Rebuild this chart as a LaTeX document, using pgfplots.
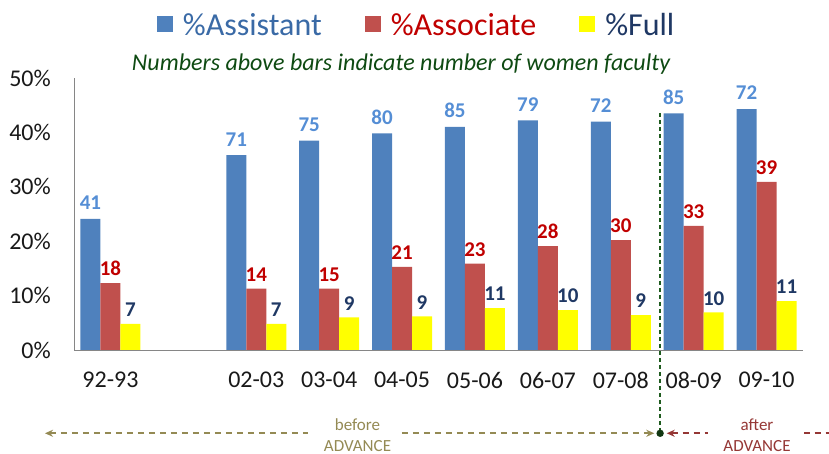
\documentclass[border=0pt]{standalone}
\usepackage{fontspec}
\setmainfont{Carlito}
\usepackage{pgfplots}
\usepackage{pgfplotstable}
\pgfplotsset{compat=1.18}
\usetikzlibrary{arrows.meta}

\definecolor{barBlue}{HTML}{4F81BD}
\definecolor{barRed}{HTML}{C0504D}
\definecolor{barYellow}{HTML}{FFFF00}
\definecolor{labBlue}{HTML}{558ED5}
\definecolor{labRed}{HTML}{C00000}
\definecolor{labNavy}{HTML}{1F3864}
\definecolor{legBlue}{HTML}{3A6AA6}
\definecolor{subGreen}{HTML}{0E4A12}
\definecolor{lineGreen}{HTML}{1E5B1E}
\definecolor{olive}{HTML}{948A54}
\definecolor{afterRed}{HTML}{953735}
\definecolor{axGray}{HTML}{868686}

\pgfplotstableread{
x y lab
0 24.1 41
2 35.8 71
3 38.5 75
4 39.8 80
5 41.0 85
6 42.2 79
7 42.0 72
8 43.5 85
9 44.3 72
}\assist
\pgfplotstableread{
x y lab
0 12.3 18
2 11.3 14
3 11.3 15
4 15.3 21
5 15.9 23
6 19.1 28
7 20.2 30
8 22.8 33
9 30.9 39
}\associate
\pgfplotstableread{
x y lab
0 4.8 7
2 4.8 7
3 6.0 9
4 6.2 9
5 7.7 11
6 7.35 10
7 6.4 9
8 6.9 10
9 9.0 11
}\full

\begin{document}
\begin{tikzpicture}
\path[use as bounding box] (0,0) rectangle (829pt,454pt);
\begin{axis}[
  at={(74pt,104pt)}, anchor=south west,
  scale only axis, width=729pt, height=272pt,
  xmin=-0.5, xmax=9.5, ymin=0, ymax=50,
  clip=false,
  ybar legend/.style={legend image code/.code={\fill[##1] (0pt,-7pt) rectangle (16pt,9pt);}},
  ybar=0pt, bar width=20pt,
  axis x line=bottom, axis y line=left,
  axis line style={draw=axGray, line width=0.8pt, -},
  xtick={0,2,3,4,5,6,7,8,9},
  xticklabels={92-93,02-03,03-04,04-05,05-06,06-07,07-08,08-09,09-10},
  ytick={0,10,20,30,40,50},
  yticklabels={0\%,10\%,20\%,30\%,40\%,50\%},
  major tick length=0pt,
  tick label style={font=\fontsize{24}{24}\selectfont, text=black!90},
  yticklabel style={inner sep=0pt, anchor=east, xshift=-23pt},
  xticklabel style={inner sep=0pt, anchor=north, yshift=-22pt},
  nodes near coords, point meta=explicit symbolic,
  every node near coord/.append style={font=\bfseries\fontsize{21}{21}\selectfont, inner sep=0pt, anchor=south},
  legend columns=3,
  legend style={draw=none, fill=none, at={(0.47,1.195)}, anchor=center,
    font=\fontsize{32}{32}\selectfont,
    /tikz/every odd column/.append style={column sep=8pt},
    /tikz/every even column/.append style={column sep=41pt}},
]
\addplot[fill=barBlue, draw=none, every node near coord/.append style={text=labBlue, yshift=9pt}] table[x=x, y=y, meta=lab] {\assist};
\addlegendentry{\textcolor{legBlue}{\%Assistant}}
\addplot[fill=barRed, draw=none, every node near coord/.append style={text=labRed, yshift=7pt}] table[x=x, y=y, meta=lab] {\associate};
\addlegendentry{\textcolor{labRed}{\%Associate}}
\addplot[fill=barYellow, draw=none, every node near coord/.append style={text=labNavy, yshift=7pt}] table[x=x, y=y, meta=lab] {\full};
\addlegendentry{\textcolor{labNavy}{\%Full}}

\node[font=\itshape\fontsize{24}{24}\selectfont, text=subGreen, anchor=base] at (rel axis cs:0.4486,1.029) {Numbers above bars indicate number of women faculty};

\draw[lineGreen, line width=1.7pt, dash pattern=on 4pt off 3pt] (axis cs:7.54,43.6) -- (axis cs:7.54,-15.31);
\draw[olive, line width=2pt, dash pattern=on 6pt off 5pt, {Stealth[length=8pt,width=7pt]}-{Stealth[length=8pt,width=7pt]}] (axis cs:-0.898,-15.31) -- (axis cs:7.46,-15.31);
\draw[afterRed, line width=2pt, dash pattern=on 6pt off 5pt, {Stealth[length=8pt,width=7pt]}-] (axis cs:7.63,-15.31) -- (axis cs:10.5,-15.31);
\fill[lineGreen!60!black] (axis cs:7.54,-15.31) circle (3.7pt);
\fill[white] (axis cs:2.71,-13.97) rectangle (axis cs:3.97,-20.2);
\fill[white] (axis cs:8.197,-13.97) rectangle (axis cs:9.514,-20.2);
\node[text=olive, inner sep=0pt, anchor=base, font=\fontsize{17}{17}\selectfont] at (axis cs:3.389,-14.71) {before};
\node[text=olive, inner sep=0pt, anchor=base, font=\fontsize{17}{17}\selectfont] at (axis cs:3.389,-18.6) {ADVANCE};
\node[text=afterRed, inner sep=0pt, anchor=base, font=\fontsize{17}{17}\selectfont] at (axis cs:8.869,-14.71) {after};
\node[text=afterRed, inner sep=0pt, anchor=base, font=\fontsize{17}{17}\selectfont] at (axis cs:8.869,-18.6) {ADVANCE};
\end{axis}
\end{tikzpicture}
\end{document}
